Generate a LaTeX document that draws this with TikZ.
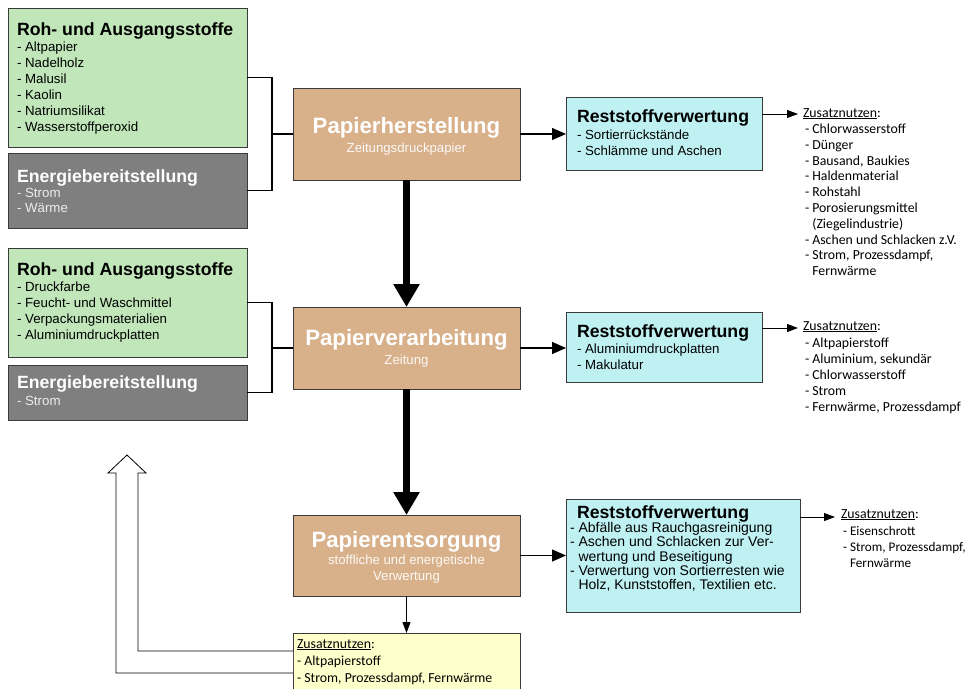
\documentclass[tikz,border=0pt]{standalone}
\usepackage{fontspec}
\setmainfont{Liberation Sans}
\newfontfamily\zfont{Carlito}
\usetikzlibrary{arrows.meta}
\definecolor{gfill}{HTML}{C1E6BA}
\definecolor{efill}{HTML}{7F7F7F}
\definecolor{pfill}{HTML}{D8B08A}
\definecolor{rfill}{HTML}{BFF1F3}
\definecolor{yfill}{HTML}{FFFFCC}
\definecolor{bord}{HTML}{3A3A3A}
\newcommand\mylines[6]{\foreach \t [count=\i from 0] in {#6}{\node[#1] (#5\i) at (#2,{#3+\i*#4}) {\t};}}
\tikzset{
  box/.style={draw=bord, line width=0.9pt, anchor=north west, inner sep=0pt, outer sep=0pt},
  lbl/.style={anchor=base west, inner sep=0pt, outer sep=0pt},
  head/.style={lbl, font=\fontsize{17.7}{17}\selectfont\bfseries},
  itm/.style={lbl, font=\fontsize{13.3}{13}\selectfont},
  itmb/.style={lbl, font=\fontsize{14}{13}\selectfont},
  whead/.style={head, text=white},
  witm/.style={itm, text=white!93!black},
  zus/.style={lbl, font=\zfont\fontsize{13.8}{12}\selectfont},
  zuss/.style={lbl, font=\zfont\fontsize{13.2}{12}\selectfont},
  ptitle/.style={anchor=base, inner sep=0pt, text=white, font=\fontsize{22.2}{22}\selectfont\bfseries},
  psub/.style={anchor=base, inner sep=0pt, text=white!92!pfill, font=\fontsize{13.2}{13}\selectfont},
  brk/.style={line width=1.3pt, black},
  marr/.style={line width=1.3pt, -{Triangle[width=12pt,length=14pt]}},
  sarr/.style={line width=0.9pt, -{Triangle[width=8pt,length=11pt]}},
  bigarr/.style={line width=7pt, -{Triangle[width=25pt,length=23pt]}},
}
\begin{document}
\begin{tikzpicture}[x=1pt,y=-1pt]
\useasboundingbox (0,0) rectangle (971,688);
% left input boxes
\node[box, fill=gfill, minimum width=239pt, minimum height=139pt] (g1) at (8,8) {};
\node[box, fill=efill, minimum width=239pt, minimum height=75pt] (e1) at (8,153) {};
\node[box, fill=gfill, minimum width=239pt, minimum height=109pt] (g2) at (8,248) {};
\node[box, fill=efill, minimum width=239pt, minimum height=55pt] (e2) at (8,365) {};
% process boxes
\node[box, fill=pfill, minimum width=227pt, minimum height=92pt] (P1) at (293,88) {};
\node[box, fill=pfill, minimum width=227pt, minimum height=82pt] (P2) at (293,307) {};
\node[box, fill=pfill, minimum width=227pt, minimum height=81pt] (P3) at (293,515) {};
\node[box, fill=yfill, minimum width=227pt, minimum height=70pt] (Y) at (293,633) {};
% residue boxes
\node[box, fill=rfill, minimum width=196pt, minimum height=73pt] (R1) at (566,97) {};
\node[box, fill=rfill, minimum width=196pt, minimum height=70pt] (R2) at (566,312) {};
\node[box, fill=rfill, minimum width=234pt, minimum height=113pt] (R3) at (566,499) {};
% texts left
\node[head] (g1h) at (17,35) {Roh- und Ausgangsstoffe};
\mylines{itm}{17}{51}{16}{g1i}{- Altpapier,- Nadelholz,- Malusil,- Kaolin,- Natriumsilikat,- Wasserstoffperoxid}
\node[whead] (e1h) at (17,182.5) {Energiebereitstellung};
\mylines{witm}{17}{197}{15}{e1i}{- Strom,- Wärme}
\node[head] (g2h) at (17,275) {Roh- und Ausgangsstoffe};
\mylines{itm}{17}{291}{16}{g2i}{- Druckfarbe,- Feucht- und Waschmittel,- Verpackungsmaterialien,- Aluminiumdruckplatten}
\node[whead] (e2h) at (17,388.5) {Energiebereitstellung};
\mylines{witm}{17}{405}{15}{e2i}{- Strom}
% process texts
\node[ptitle] (p1t) at (406.5,133) {Papierherstellung};
\node[psub] (p1s) at (406.5,152) {Zeitungsdruckpapier};
\node[ptitle] (p2t) at (406.5,345) {Papierverarbeitung};
\node[psub] (p2s) at (406.5,364) {Zeitung};
\node[ptitle] (p3t) at (406.5,547) {Papierentsorgung};
\node[psub] (p3s) at (406.5,564) {stoffliche und energetische};
\node[psub] (p3u) at (406.5,580) {Verwertung};
% residue texts
\node[head] (r1h) at (577,122) {Reststoffverwertung};
\mylines{itm}{577}{139.5}{16}{r1i}{- Sortierrückstände,- Schlämme und Aschen}
\node[head] (r2h) at (577,337) {Reststoffverwertung};
\mylines{itm}{577}{353.5}{16}{r2i}{- Aluminiumdruckplatten,- Makulatur}
\node[head] (r3h) at (577,518) {Reststoffverwertung};
\mylines{itmb}{570}{532.5}{14.3}{r3i}{- Abfälle aus Rauchgasreinigung,- Aschen und Schlacken zur Ver-,\phantom{- }wertung und Beseitigung,- Verwertung von Sortierresten wie,{\phantom{- }Holz, Kunststoffen, Textilien etc.}}
% Zusatznutzen texts
\node[zus] (z1h) at (803,117) {\underline{Zusatznutzen}:};
\mylines{zus}{805}{133.5}{15.8}{z1i}{- Chlorwasserstoff,- Dünger,{- Bausand, Baukies},- Haldenmaterial,- Rohstahl,- Porosierungsmittel,\phantom{- }(Ziegelindustrie),- Aschen und Schlacken z.V.,{- Strom, Prozessdampf,},\phantom{- }Fernwärme}
\node[zus] (z2h) at (803,330) {\underline{Zusatznutzen}:};
\mylines{zus}{805}{347}{16}{z2i}{- Altpapierstoff,{- Aluminium, sekundär},- Chlorwasserstoff,- Strom,{- Fernwärme, Prozessdampf}}
\node[zus] (z3h) at (841,518) {\underline{Zusatznutzen}:};
\mylines{zuss}{843}{535}{16}{z3i}{- Eisenschrott,{- Strom, Prozessdampf,},\phantom{- }Fernwärme}
\node[zus] (yh) at (297,648) {\underline{Zusatznutzen}:};
\mylines{zus}{297}{665}{17}{yi}{- Altpapierstoff,{- Strom, Prozessdampf, Fernwärme}}
% brackets
\draw[brk] (g1.east) -- ++(25,0) coordinate (b1) |- (e1.east);
\draw[brk] (b1 |- P1.west) -- (P1.west);
\draw[brk] (g2.east) -- ++(25,0) coordinate (b2) |- (e2.east);
\draw[brk] (b2 |- P2.west) -- (P2.west);
% arrows to residue boxes
\draw[marr] (P1.east) -- (P1.east -| R1.west);
\draw[marr] (P2.east) -- (P2.east -| R2.west);
\draw[marr] (P3.east) -- (P3.east -| R3.west);
% arrows to Zusatznutzen
\coordinate (za) at (798,114);
\coordinate (zb) at (798,328);
\coordinate (zc) at (835,517);
\draw[sarr] (R1.east |- za) -- (za);
\draw[sarr] (R2.east |- zb) -- (zb);
\draw[sarr] (R3.east |- zc) -- (zc);
% main flow
\draw[bigarr] (P1.south) -- (P2.north);
\draw[bigarr] (P2.south) -- (P3.north);
\draw[sarr] (P3.south) -- (Y.north);
% hollow return arrow
\draw[line width=0.8pt, fill=white] (Y.north west |- 0,651) -- (138,651) -- (138,473) -- (146,473) -- (127,455) -- (108,473) -- (116,473) -- (116,673) -- (Y.north west |- 0,673);
\end{tikzpicture}
\end{document}
